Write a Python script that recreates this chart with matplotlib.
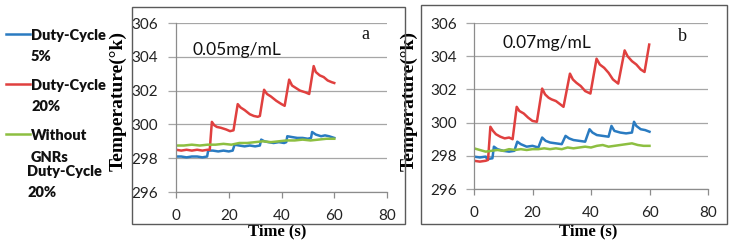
import matplotlib
matplotlib.use("Agg")
import matplotlib.pyplot as plt
from matplotlib.lines import Line2D
from matplotlib.patches import Rectangle

# ---------------- data ----------------
xticks = [0, 20, 40, 60, 80]
yticks = [296, 298, 300, 302, 304, 306]

# panel a (0.05 mg/mL)
t_a_red = [0, 2, 4, 6, 8, 10, 12, 12.8, 13.6, 14.5, 15.5, 17, 19, 20.5, 21.8, 23.4, 24.5, 26, 28, 29.5,
           31, 31.8, 33.4, 34.5, 36, 38, 40, 41.2, 42.9, 44, 45.5, 47, 49, 50.5, 52.2, 53, 54.5, 56, 57.5, 59, 60]
a_red = [298.5, 298.45, 298.5, 298.45, 298.5, 298.45, 298.5, 298.5, 300.15, 299.95, 299.85, 299.8, 299.7, 299.6,
         299.65, 301.2, 301.0, 300.85, 300.6, 300.5, 300.45, 300.5, 302.05, 301.8, 301.65, 301.4, 301.2, 301.1,
         302.65, 302.3, 302.15, 302.0, 301.9, 301.8, 303.45, 303.1, 302.9, 302.8, 302.6, 302.5, 302.45]

t_a_blue = [0, 2, 4, 6, 8, 10, 11.8, 12.2, 14, 16, 18, 20, 21.5, 22.2, 24, 26, 28, 30, 31.8, 32.3, 33.5, 35,
            37, 39, 41, 41.8, 42.2, 44, 46, 48, 50, 51.2, 51.6, 53, 55, 56.5, 58, 60]
a_blue = [298.1, 298.1, 298.05, 298.1, 298.1, 298.05, 298.1, 298.45, 298.45, 298.4, 298.45, 298.4, 298.45,
          298.8, 298.75, 298.7, 298.75, 298.7, 298.75, 299.1, 299.0, 298.95, 298.9, 298.95, 298.9, 298.95,
          299.3, 299.25, 299.2, 299.2, 299.15, 299.2, 299.55, 299.4, 299.3, 299.35, 299.3, 299.2]

t_a_green = [0, 3, 6, 9, 12, 15, 18, 21, 24, 27, 30, 33, 36, 39, 42, 45, 48, 51, 54, 57, 60]
a_green = [298.75, 298.75, 298.8, 298.75, 298.8, 298.8, 298.85, 298.8, 298.9, 298.9, 298.95, 299.0, 298.95,
           299.0, 299.05, 299.05, 299.1, 299.05, 299.1, 299.15, 299.15]

# panel b (0.07 mg/mL)
t_b_red = [0, 2, 4, 4.8, 5.6, 6.5, 7.5, 9, 10.5, 12, 13.2, 14.6, 15.5, 17, 18.5, 20, 21.5, 23.3, 24.3, 25.5,
           26.5, 28, 29.5, 30.6, 32.8, 33.8, 35, 36.5, 38, 39.8, 41.9, 43, 44.5, 46, 47.5, 49.3, 51.5, 52.5,
           54, 55.5, 57, 58.3, 59.9]
b_red = [297.7, 297.65, 297.7, 297.75, 299.75, 299.5, 299.3, 299.15, 299.05, 299.1, 299.0, 300.95, 300.7,
         300.55, 300.3, 300.1, 300.05, 302.05, 301.7, 301.5, 301.4, 301.3, 301.1, 300.95, 302.95, 302.6,
         302.4, 302.2, 301.9, 301.75, 303.85, 303.5, 303.3, 303.0, 302.6, 302.35, 304.35, 304.0, 303.7,
         303.5, 303.2, 303.05, 304.7]

t_b_blue = [0, 2, 4, 4.5, 6.3, 6.8, 8, 10, 12, 13.8, 14.8, 16, 18, 20, 22, 23.3, 24.5, 26, 28, 30, 31.3,
            32.5, 34, 36, 38, 39.5, 40.5, 42, 44, 46, 47, 48, 50, 52, 54, 54.7, 55.5, 57, 58.5, 60]
b_blue = [297.95, 297.9, 297.95, 297.8, 297.85, 298.55, 298.4, 298.3, 298.25, 298.3, 298.85, 298.7, 298.55,
          298.6, 298.5, 299.1, 298.9, 298.8, 298.75, 298.7, 299.2, 299.05, 298.95, 298.9, 298.85, 299.6,
          299.4, 299.25, 299.2, 299.15, 299.8, 299.5, 299.4, 299.35, 299.4, 300.05, 299.8, 299.6, 299.55, 299.45]

t_b_green = [0, 2, 4, 6, 8, 10, 12, 14, 16, 18, 20, 22, 24, 26, 28, 30, 32, 34, 36, 38, 40, 42, 44, 46, 48,
             50, 52, 54, 56, 58, 60]
b_green = [298.45, 298.35, 298.25, 298.3, 298.35, 298.3, 298.4, 298.35, 298.4, 298.35, 298.4, 298.4, 298.45,
           298.4, 298.45, 298.4, 298.5, 298.45, 298.5, 298.55, 298.5, 298.6, 298.65, 298.55, 298.6, 298.65,
           298.7, 298.75, 298.65, 298.6, 298.6]

# ---------------- style ----------------
C_BLUE = "#2a7bc1"
C_RED = "#e0403f"
C_GREEN = "#8dbf41"
TICK_FONT = "Lato"
W, H = 731, 245

fig = plt.figure(figsize=(W / 100, H / 100), dpi=100)


def fx(px):
    return px / W


def fy(py):
    return 1 - py / H


def style_axes(ax, ypad):
    ax.set_xlim(0, 80)
    ax.set_ylim(296, 306)
    ax.set_xticks(xticks)
    ax.set_yticks(yticks)
    for s in ("top", "right"):
        ax.spines[s].set_visible(False)
    for s in ("left", "bottom"):
        ax.spines[s].set_color("#8c8c8c")
        ax.spines[s].set_linewidth(0.9)
    ax.yaxis.grid(True, color="#a6a6a6", lw=0.9)
    ax.set_axisbelow(True)
    ax.tick_params(axis="y", length=6, width=0.9, color="#a6a6a6", direction="out", pad=ypad)
    ax.tick_params(axis="x", length=4, width=0.9, color="#8c8c8c", direction="out", pad=8)
    for lab in ax.get_xticklabels() + ax.get_yticklabels():
        lab.set_fontfamily(TICK_FONT)
        lab.set_fontsize(11)
        lab.set_color("#222222")


panels = [
    dict(rect=[fx(176), fy(192), fx(387 - 176), (192 - 23) / H], box=(132, 7, 405, 224),
         red=(t_a_red, a_red), blue=(t_a_blue, a_blue), green=(t_a_green, a_green),
         conc="0.05mg/mL", conc_xy=(0.076, 0.84), letter="a", letter_xy=(0.896, 0.93),
         ylab_x=127, xlab_x=277, ypad=7),
    dict(rect=[fx(474), fy(189), fx(708 - 474), (189 - 23) / H], box=(421, 5, 727, 224),
         red=(t_b_red, b_red), blue=(t_b_blue, b_blue), green=(t_b_green, b_green),
         conc="0.07mg/mL", conc_xy=(0.12, 0.88), letter="b", letter_xy=(0.889, 0.916),
         ylab_x=418, xlab_x=588, ypad=6),
]

for p in panels:
    x0, y0, x1, y1 = p["box"]
    fig.add_artist(Rectangle((fx(x0), fy(y1)), (x1 - x0) / W, (y1 - y0) / H, fill=False,
                             ec="#5a5a5a", lw=1.0, transform=fig.transFigure))
    ax = fig.add_axes(p["rect"])
    ax.plot(*p["blue"], color=C_BLUE, lw=1.8)
    ax.plot(*p["red"], color=C_RED, lw=1.8)
    ax.plot(*p["green"], color=C_GREEN, lw=1.8)
    style_axes(ax, p["ypad"])
    ax.set_ylabel("Temperature(°k)", fontfamily="Liberation Serif", fontweight="bold", fontsize=14)
    ax.yaxis.set_label_coords(fx(p["ylab_x"]), fy(101), transform=fig.transFigure)
    ax.set_xlabel("Time (s)", fontfamily="Liberation Serif", fontweight="bold", fontsize=12)
    ax.xaxis.set_label_coords(fx(p["xlab_x"]), fy(223), transform=fig.transFigure)
    ax.text(*p["conc_xy"], p["conc"], transform=ax.transAxes, fontfamily=TICK_FONT, fontsize=12.5,
            va="center", ha="left", color="#111111")
    ax.text(*p["letter_xy"], p["letter"], transform=ax.transAxes, fontfamily="Liberation Serif",
            fontsize=13, va="center", ha="center", color="#111111")

# ---------------- legend (outside, left) ----------------
legend_entries = [
    (C_BLUE, 34, ["Duty-Cycle", "5%"], [40, 61]),
    (C_RED, 84, ["Duty-Cycle", "20%"], [90, 111]),
    (C_GREEN, 134, ["Without", "GNRs"], [140, 162]),
]
for color, ly, texts, bases in legend_entries:
    fig.add_artist(Line2D([fx(6), fx(30)], [fy(ly), fy(ly)], color=color, lw=1.8,
                          transform=fig.transFigure))
    for txt, b in zip(texts, bases):
        fig.text(fx(31), fy(b), txt, fontfamily=TICK_FONT, fontweight="heavy", fontsize=10.5,
                 va="baseline", ha="left", color="#111111")
for txt, b in zip(["Duty-Cycle", "20%"], [176, 197]):
    fig.text(fx(27), fy(b), txt, fontfamily=TICK_FONT, fontweight="heavy", fontsize=10.5,
             va="baseline", ha="left", color="#111111")

fig.savefig("out.png", dpi=100)
